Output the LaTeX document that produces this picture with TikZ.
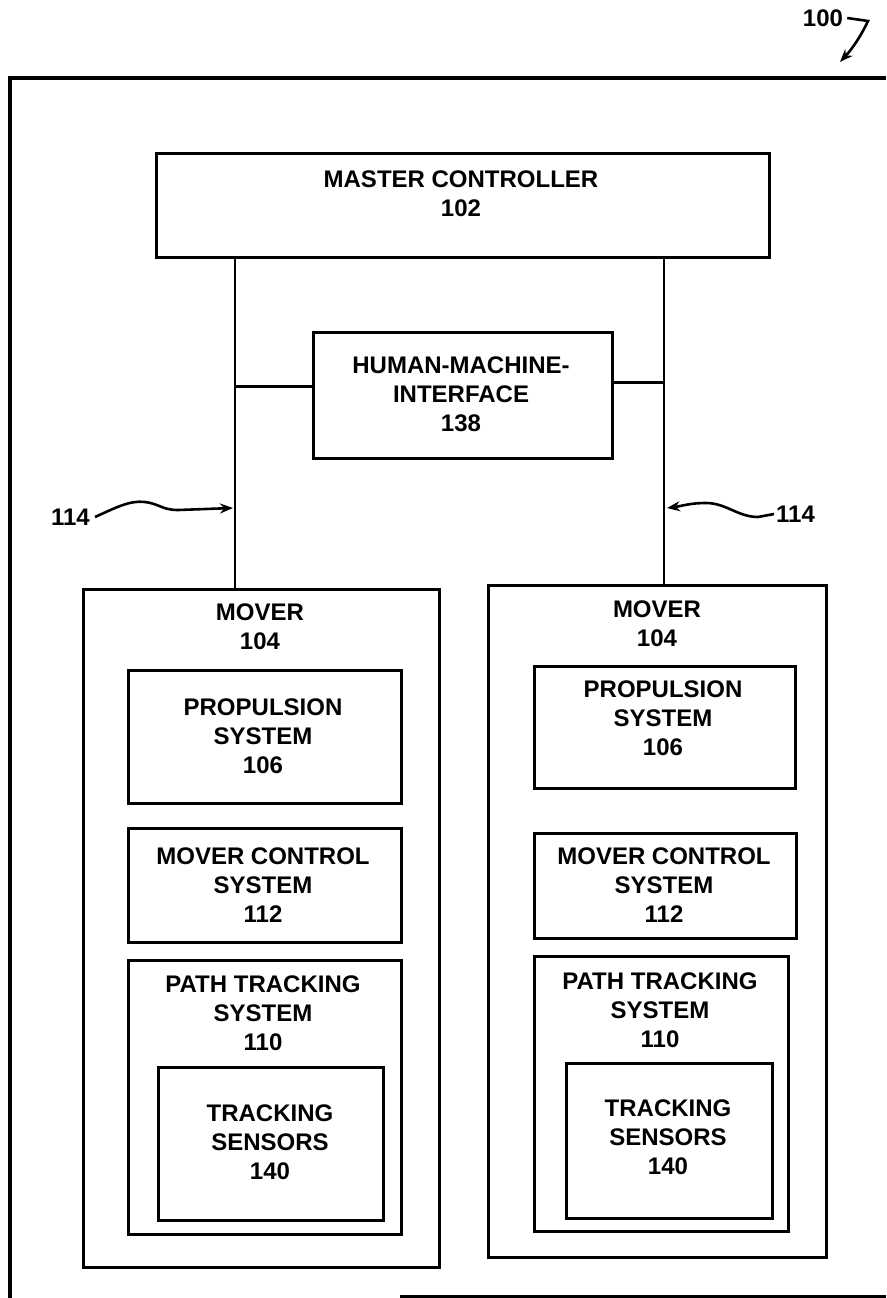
\documentclass[tikz,border=0pt]{standalone}
\usepackage{fontspec}
\setmainfont{Liberation Sans}
\usetikzlibrary{arrows.meta}
\begin{document}
\begin{tikzpicture}[x=1pt,y=-1pt,
  box/.style={draw=black,line width=2.8pt,rectangle,inner sep=0pt,anchor=north west},
  lbl/.style={align=center,font=\fontsize{24}{29}\selectfont\bfseries,inner sep=0pt},
  wire/.style={draw=black,line width=2.6pt},
  lead/.style={draw=black,line width=2.6pt,-{Stealth[length=13pt,width=10pt]}}]
\useasboundingbox (0,0) rectangle (886,1298);
% outer frame
\draw[line width=4pt] (886,78) -- (10,78) -- (10,1298);
\draw[line width=3pt] (400,1296) -- (886,1296);
% master controller
\node[box,minimum width=613pt,minimum height=104pt] (mc) at (155,152) {};
\node[lbl] (mct) at (461,194) {MASTER CONTROLLER\\102};
% HMI
\node[box,minimum width=299pt,minimum height=126pt] (hmi) at (312,331) {};
\node[lbl] (hmit) at (461,394) {HUMAN-MACHINE-\\INTERFACE\\138};
% left mover
\node[box,minimum width=356pt,minimum height=678pt] (lmv) at (82,588) {};
\node[lbl] (lmvt) at (260,627) {MOVER\\104};
\node[box,minimum width=273pt,minimum height=133pt] (lps) at (127,669) {};
\node[lbl] (lpst) at (263,736) {PROPULSION\\SYSTEM\\106};
\node[box,minimum width=273pt,minimum height=114pt] (lmc) at (127,827) {};
\node[lbl] (lmct) at (263,885) {MOVER CONTROL\\SYSTEM\\112};
\node[box,minimum width=273pt,minimum height=274pt] (lpt) at (127,959) {};
\node[lbl] (lptt) at (263,1013) {PATH TRACKING\\SYSTEM\\110};
\node[box,minimum width=225pt,minimum height=153pt] (lts) at (157,1066) {};
\node[lbl] (ltst) at (270,1142) {TRACKING\\SENSORS\\140};
% right mover
\node[box,minimum width=338pt,minimum height=672pt] (rmv) at (487,584) {};
\node[lbl] (rmvt) at (657,624) {MOVER\\104};
\node[box,minimum width=261pt,minimum height=122pt] (rps) at (533,665) {};
\node[lbl] (rpst) at (663,718) {PROPULSION\\SYSTEM\\106};
\node[box,minimum width=262pt,minimum height=105pt] (rmc) at (533,832) {};
\node[lbl] (rmct) at (664,885) {MOVER CONTROL\\SYSTEM\\112};
\node[box,minimum width=254pt,minimum height=275pt] (rpt) at (533,955) {};
\node[lbl] (rptt) at (660,1010) {PATH TRACKING\\SYSTEM\\110};
\node[box,minimum width=206pt,minimum height=155pt] (rts) at (565,1062) {};
\node[lbl] (rtst) at (668,1137) {TRACKING\\SENSORS\\140};
% buses
\path (mc.south west) ++(80,0) coordinate (lt);
\path (mc.south west) ++(509,0) coordinate (rt);
\draw[wire] (lt) -- (lt |- lmv.north);
\draw[wire] (rt) -- (rt |- rmv.north);
\draw[wire] ([yshift=9pt]hmi.west) -- ([yshift=9pt]hmi.west -| lt);
\draw[wire] ([yshift=13pt]hmi.east) -- ([yshift=13pt]hmi.east -| rt);
% 114 labels
\node[lbl,anchor=east] (l114) at (90,517) {114};
\node[lbl,anchor=west] (r114) at (776,514) {114};
\coordinate (ltip) at (lt |- 0,508);
\coordinate (rtip) at (rt |- 0,508);
\draw[lead] ([xshift=5pt]l114.east) .. controls (115,508) and (130,500) .. (145,502)
  .. controls (160,504) and (162,510) .. (178,510) -- ([xshift=-2pt]ltip);
\draw[lead] ([xshift=-2pt]r114.west) -- (758,517) .. controls (738,517) and (726,503) .. (706,503)
  .. controls (690,503) and (682,506) .. ([xshift=3pt]rtip);
% 100 label
\node[lbl] (n100) at (823,18) {100};
\coordinate (t100) at (840,62);
\draw[lead] ([xshift=4pt]n100.east) -- (868,21) .. controls (862,34) and (853,48) .. (t100);
\end{tikzpicture}
\end{document}
